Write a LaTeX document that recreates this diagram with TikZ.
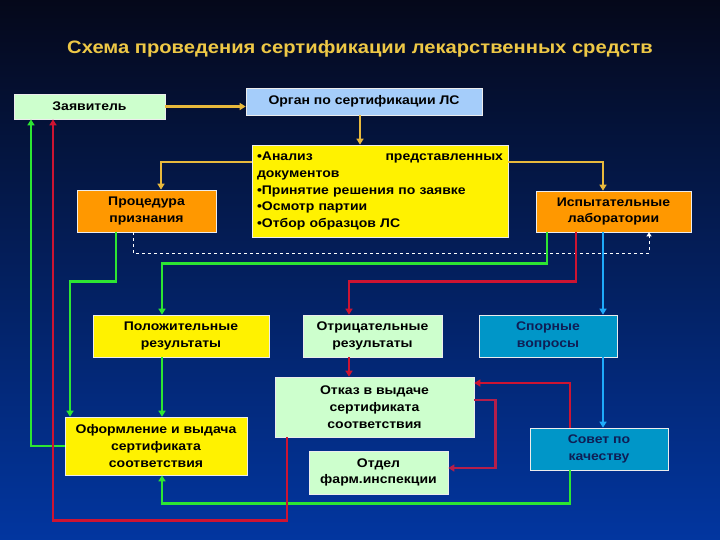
\documentclass[tikz,border=0pt]{standalone}
\usepackage{fontspec}
\setmainfont{Liberation Sans}[FakeStretch=1.12]
\usetikzlibrary{arrows.meta,calc}
\definecolor{bgtop}{RGB}{5,8,26}
\definecolor{bgmid}{RGB}{10,40,132}
\definecolor{bgbot}{RGB}{2,54,160}
\definecolor{ttl}{RGB}{238,200,70}
\definecolor{ylwline}{RGB}{232,185,60}
\definecolor{grnline}{RGB}{45,230,50}
\definecolor{redline}{RGB}{205,20,50}
\definecolor{wineline}{RGB}{180,30,75}
\definecolor{bluline}{RGB}{30,170,250}
\definecolor{paleblue}{RGB}{165,205,250}
\definecolor{palegreen}{RGB}{205,255,205}
\definecolor{orng}{RGB}{255,152,0}
\definecolor{teal}{RGB}{0,150,200}
\definecolor{navytext}{RGB}{15,30,85}
\newcommand\boxfont{\bfseries\fontsize{12.5}{16.7}\selectfont}

\begin{document}
\begin{tikzpicture}[x=1pt, y=-1pt,
    box/.style={draw=white!85!gray, line width=0.7pt, inner sep=2pt, align=center, font=\boxfont, text=black},
    link/.style={line width=2.4pt, -{Triangle[length=6pt,width=7pt]}},
    ylw/.style={link, ylwline},
    grn/.style={link, grnline},
    rd/.style={link, redline},
    wine/.style={link, wineline},
    blu/.style={link, bluline},
    dsh/.style={draw=white, line width=1pt, dashed, -{Triangle[length=4pt,width=5pt]}}]
    % background
    \shade[top color=bgtop, middle color=bgmid, bottom color=bgbot] (0,0) rectangle (720,540);
    \useasboundingbox (0,0) rectangle (720,540);
    % title
    \node[text=ttl, font=\bfseries\fontsize{18}{20}\selectfont] (title) at (360,49) {Схема проведения сертификации лекарственных средств};
    % boxes
    \node[box, fill=palegreen, minimum width=151pt, minimum height=25pt] (zayav) at (89.5,106.5) {Заявитель};
    \node[box, fill=paleblue, minimum width=236pt, minimum height=27pt] (organ) at (364,101.5) {Орган по сертификации ЛС};
    \node[box, fill=yellow, minimum width=256pt, minimum height=92pt, text width=246pt, inner xsep=5pt, align=left] (analiz) at (380,191)
        {\hbox to 246pt{\textbullet Анализ\hfill представленных}\\документов\\\textbullet Принятие решения по заявке\\\textbullet Осмотр партии\\\textbullet Отбор образцов ЛС\\[-6pt]};
    \node[box, fill=orng, minimum width=139pt, minimum height=42pt] (proc) at (146.5,211) {Процедура\\признания};
    \node[box, fill=orng, minimum width=155pt, minimum height=41pt] (ispyt) at (613.5,211.5) {Испытательные\\лаборатории};
    \node[box, fill=yellow, minimum width=176pt, minimum height=42pt] (polozh) at (181,336) {Положительные\\результаты};
    \node[box, fill=palegreen, minimum width=139pt, minimum height=42pt] (otric) at (372.5,336) {Отрицательные\\результаты};
    \node[box, fill=teal, text=navytext, minimum width=138pt, minimum height=42pt] (spor) at (548,336) {Спорные\\вопросы};
    \node[box, fill=palegreen, minimum width=199pt, minimum height=60pt] (otkaz) at (374.5,407) {Отказ в выдаче\\сертификата\\соответствия};
    \node[box, fill=yellow, minimum width=182pt, minimum height=58pt] (oform) at (156,446) {Оформление и выдача\\сертификата\\соответствия};
    \node[box, fill=teal, text=navytext, minimum width=138pt, minimum height=42pt] (sovet) at (599,449) {Совет по\\качеству};
    \node[box, fill=palegreen, minimum width=139pt, minimum height=43pt] (otdel) at (378.5,472.5) {Отдел\\фарм.инспекции};
    % yellow links
    \path[draw, ylw] (zayav.east) -- (zayav.east -| organ.west);
    \path[draw, ylw] ([xshift=-4pt]organ.south) -- ([xshift=-4pt]organ.south |- analiz.north);
    \path[draw, ylw] ([yshift=29pt]analiz.west) -| ([xshift=14.5pt]proc.north);
    \path[draw, ylw] ([yshift=29pt]analiz.east) -| ([xshift=-10.5pt]ispyt.north);
    \path[draw, dsh] ([xshift=-13.5pt]proc.south) -- ++(0,21) -| ([xshift=35.5pt]ispyt.south);
    % green links
    \path[draw, grn] (oform.west) -| ([xshift=-58.5pt]zayav.south);
    \path[draw, grn] ([xshift=-30.5pt]proc.south) -- ++(0,49) -| ([xshift=-86pt]oform.north);
    \path[draw, grn] ([xshift=-66.5pt]ispyt.south) -- ++(0,31) -| ([xshift=-19pt]polozh.north);
    \path[draw, grn] ([xshift=-19pt]polozh.south) -- ([xshift=-19pt]polozh.south |- oform.north);
    \path[draw, grn] ([xshift=-29pt]sovet.south) -- ++(0,33) -| ([xshift=6pt]oform.south);
    % red links
    \path[draw, rd] ([xshift=-87.5pt]otkaz.south) -- ++(0,83) -| ([xshift=-36.5pt]zayav.south);
    \path[draw, rd] ([xshift=-37.5pt]ispyt.south) -- ++(0,49) -| ([xshift=-23.5pt]otric.north);
    \path[draw, rd] ([xshift=-23.5pt]otric.south) -- ([xshift=-23.5pt]otric.south |- otkaz.north);
    \path[draw, rd] ([xshift=-29pt]sovet.north) |- ([yshift=24pt]otkaz.east);
    \path[draw, wine] ([yshift=7pt]otkaz.east) -- ++(21,0) |- ([yshift=4.5pt]otdel.east);
    % blue links
    \path[draw, blu] ([xshift=-10.5pt]ispyt.south) -- ([xshift=-10.5pt]ispyt.south |- spor.north);
    \path[draw, blu] ([xshift=55pt]spor.south) -- ([xshift=55pt]spor.south |- sovet.north);
\end{tikzpicture}
\end{document}
